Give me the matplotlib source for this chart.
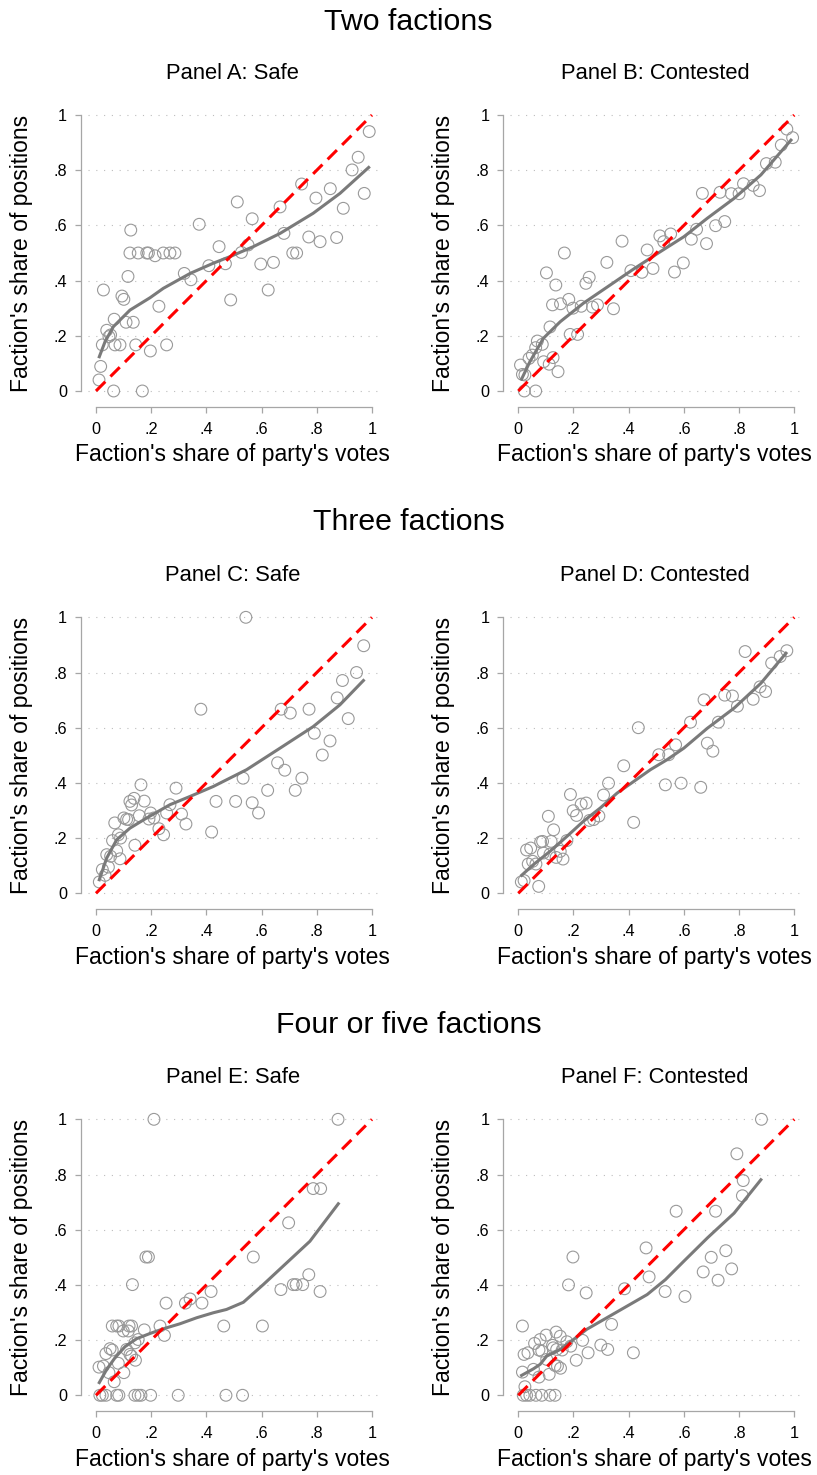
import matplotlib
matplotlib.use("Agg")
import matplotlib.pyplot as plt

plt.rcParams['font.family'] = ['Liberation Sans', 'DejaVu Sans']

# Panel A: two factions, safe
a_x = [0.99, 0.95, 0.928, 0.972, 0.745, 0.797, 0.849, 0.896, 0.667, 0.512, 0.566, 0.374, 0.126, 0.681, 0.771,
       0.812, 0.872, 0.713, 0.727, 0.446, 0.551, 0.527, 0.123, 0.153, 0.184, 0.19, 0.214, 0.244, 0.268, 0.286,
       0.409, 0.469, 0.597, 0.643, 0.488, 0.624, 0.32, 0.344, 0.116, 0.027, 0.094, 0.101, 0.228, 0.066, 0.109,
       0.135, 0.039, 0.053, 0.047, 0.023, 0.069, 0.087, 0.144, 0.256, 0.197, 0.017, 0.011, 0.064, 0.168]
a_y = [0.94, 0.847, 0.801, 0.716, 0.75, 0.699, 0.733, 0.662, 0.667, 0.685, 0.624, 0.604, 0.583, 0.571, 0.558,
       0.541, 0.556, 0.5, 0.5, 0.523, 0.529, 0.502, 0.5, 0.5, 0.5, 0.5, 0.49, 0.5, 0.5, 0.5,
       0.454, 0.461, 0.46, 0.466, 0.33, 0.366, 0.426, 0.403, 0.415, 0.366, 0.344, 0.332, 0.307, 0.26, 0.249,
       0.249, 0.22, 0.203, 0.197, 0.167, 0.167, 0.167, 0.167, 0.167, 0.145, 0.089, 0.04, 0, 0]
a_fit_x = [0.012, 0.033, 0.063, 0.123, 0.196, 0.244, 0.341, 0.425, 0.486, 0.57, 0.667, 0.787, 0.884, 0.988]
a_fit_y = [0.124, 0.179, 0.233, 0.293, 0.338, 0.372, 0.426, 0.463, 0.487, 0.523, 0.571, 0.644, 0.716, 0.81]

# Panel B: two factions, contested
b_x = [0.973, 0.994, 0.953, 0.899, 0.931, 0.851, 0.874, 0.816, 0.8, 0.772, 0.731, 0.667, 0.748, 0.715, 0.682,
       0.646, 0.627, 0.552, 0.513, 0.527, 0.467, 0.376, 0.488, 0.598, 0.566, 0.448, 0.408, 0.321, 0.167, 0.102,
       0.136, 0.257, 0.245, 0.183, 0.153, 0.124, 0.198, 0.228, 0.269, 0.287, 0.345, 0.115, 0.188, 0.215, 0.069,
       0.087, 0.063, 0.051, 0.039, 0.008, 0.092, 0.112, 0.126, 0.144, 0.015, 0.024, 0.022, 0.063]
b_y = [0.949, 0.918, 0.891, 0.824, 0.829, 0.745, 0.726, 0.751, 0.715, 0.715, 0.72, 0.716, 0.614, 0.599, 0.534,
       0.586, 0.55, 0.569, 0.562, 0.541, 0.511, 0.543, 0.444, 0.464, 0.431, 0.43, 0.436, 0.466, 0.5, 0.428,
       0.384, 0.412, 0.39, 0.332, 0.316, 0.312, 0.3, 0.307, 0.304, 0.312, 0.298, 0.232, 0.205, 0.205, 0.181,
       0.169, 0.157, 0.13, 0.118, 0.094, 0.106, 0.097, 0.121, 0.07, 0.06, 0.058, 0, 0]
b_fit_x = [0.012, 0.042, 0.091, 0.152, 0.236, 0.333, 0.418, 0.515, 0.6, 0.685, 0.782, 0.879, 0.988]
b_fit_y = [0.043, 0.106, 0.191, 0.251, 0.318, 0.384, 0.442, 0.505, 0.559, 0.626, 0.698, 0.783, 0.909]

# Panel C: three factions, safe
c_x = [0.543, 0.97, 0.944, 0.893, 0.874, 0.914, 0.772, 0.671, 0.704, 0.38, 0.791, 0.848, 0.82, 0.658, 0.684,
       0.746, 0.722, 0.622, 0.533, 0.566, 0.589, 0.506, 0.435, 0.419, 0.29, 0.163, 0.175, 0.138, 0.123, 0.129,
       0.268, 0.31, 0.256, 0.326, 0.198, 0.21, 0.192, 0.157, 0.101, 0.111, 0.118, 0.228, 0.245, 0.068, 0.081,
       0.089, 0.06, 0.141, 0.075, 0.039, 0.053, 0.087, 0.045, 0.023, 0.033, 0.012]
c_y = [1.0, 0.897, 0.8, 0.771, 0.708, 0.633, 0.667, 0.667, 0.653, 0.667, 0.58, 0.552, 0.501, 0.473, 0.446,
       0.417, 0.373, 0.373, 0.417, 0.328, 0.291, 0.333, 0.333, 0.222, 0.381, 0.393, 0.334, 0.344, 0.333, 0.32,
       0.321, 0.287, 0.291, 0.251, 0.291, 0.273, 0.269, 0.281, 0.273, 0.268, 0.267, 0.234, 0.212, 0.255, 0.212,
       0.2, 0.191, 0.174, 0.154, 0.14, 0.134, 0.125, 0.095, 0.086, 0.065, 0.041]
c_fit_x = [0.012, 0.039, 0.075, 0.123, 0.184, 0.268, 0.341, 0.425, 0.546, 0.667, 0.787, 0.884, 0.969]
c_fit_y = [0.049, 0.128, 0.194, 0.236, 0.273, 0.321, 0.351, 0.387, 0.448, 0.526, 0.604, 0.683, 0.771]

# Panel D: three factions, contested
d_x = [0.973, 0.822, 0.949, 0.918, 0.876, 0.896, 0.851, 0.794, 0.748, 0.776, 0.673, 0.725, 0.624, 0.435, 0.685,
       0.705, 0.57, 0.509, 0.545, 0.382, 0.533, 0.59, 0.661, 0.327, 0.309, 0.189, 0.228, 0.246, 0.199, 0.211,
       0.109, 0.258, 0.273, 0.292, 0.418, 0.128, 0.081, 0.088, 0.119, 0.176, 0.03, 0.045, 0.091, 0.115, 0.137,
       0.152, 0.162, 0.036, 0.052, 0.064, 0.011, 0.021, 0.074]
d_y = [0.879, 0.876, 0.858, 0.834, 0.748, 0.731, 0.703, 0.678, 0.718, 0.715, 0.701, 0.62, 0.62, 0.6, 0.544,
       0.515, 0.538, 0.502, 0.502, 0.462, 0.393, 0.399, 0.384, 0.399, 0.356, 0.358, 0.323, 0.327, 0.299, 0.282,
       0.279, 0.264, 0.267, 0.28, 0.257, 0.23, 0.186, 0.188, 0.188, 0.191, 0.157, 0.164, 0.146, 0.142, 0.13,
       0.152, 0.124, 0.106, 0.116, 0.106, 0.041, 0.046, 0.025]
d_fit_x = [0.012, 0.055, 0.115, 0.176, 0.236, 0.297, 0.358, 0.418, 0.479, 0.539, 0.6, 0.685, 0.782, 0.879, 0.97]
d_fit_y = [0.065, 0.104, 0.152, 0.206, 0.261, 0.309, 0.363, 0.405, 0.448, 0.484, 0.526, 0.598, 0.671, 0.761, 0.87]

# Panel E: four or five factions, safe
e_x = [0.21, 0.877, 0.787, 0.814, 0.698, 0.57, 0.181, 0.19, 0.771, 0.715, 0.725, 0.749, 0.67, 0.812, 0.132,
       0.417, 0.254, 0.324, 0.341, 0.384, 0.463, 0.603, 0.059, 0.075, 0.083, 0.12, 0.129, 0.099, 0.117, 0.175,
       0.232, 0.248, 0.153, 0.141, 0.051, 0.059, 0.036, 0.111, 0.123, 0.129, 0.143, 0.081, 0.011, 0.027, 0.047,
       0.101, 0.066, 0.014, 0.023, 0.036, 0.075, 0.083, 0.141, 0.153, 0.163, 0.198, 0.298, 0.471, 0.531]
e_y = [1, 1, 0.749, 0.749, 0.625, 0.501, 0.501, 0.501, 0.437, 0.401, 0.401, 0.401, 0.383, 0.376, 0.401,
       0.376, 0.334, 0.334, 0.349, 0.334, 0.251, 0.251, 0.251, 0.251, 0.251, 0.251, 0.251, 0.233, 0.233, 0.237,
       0.251, 0.217, 0.202, 0.19, 0.169, 0.164, 0.151, 0.166, 0.148, 0.142, 0.127, 0.116, 0.102, 0.106, 0.082,
       0.082, 0.049, 0, 0, 0, 0, 0, 0, 0, 0, 0, 0, 0, 0]
e_fit_x = [0.012, 0.039, 0.069, 0.105, 0.147, 0.196, 0.244, 0.304, 0.365, 0.425, 0.473, 0.534, 0.606, 0.691, 0.775, 0.878]
e_fit_y = [0.046, 0.094, 0.136, 0.176, 0.205, 0.224, 0.241, 0.259, 0.281, 0.299, 0.311, 0.337, 0.401, 0.48, 0.558, 0.694]

# Panel F: four or five factions, contested
f_x = [0.881, 0.792, 0.815, 0.812, 0.572, 0.715, 0.463, 0.752, 0.699, 0.198, 0.773, 0.67, 0.474, 0.724, 0.182,
       0.385, 0.532, 0.604, 0.246, 0.338, 0.015, 0.233, 0.21, 0.253, 0.299, 0.324, 0.417, 0.137, 0.152, 0.101,
       0.079, 0.059, 0.075, 0.085, 0.124, 0.127, 0.139, 0.176, 0.19, 0.159, 0.021, 0.035, 0.103, 0.133, 0.142,
       0.153, 0.055, 0.075, 0.112, 0.015, 0.024, 0.018, 0.03, 0.042, 0.064, 0.085, 0.115, 0.133]
f_y = [1, 0.875, 0.778, 0.723, 0.667, 0.667, 0.534, 0.524, 0.5, 0.501, 0.458, 0.447, 0.429, 0.417, 0.4,
       0.386, 0.376, 0.358, 0.371, 0.257, 0.251, 0.199, 0.127, 0.154, 0.182, 0.166, 0.154, 0.229, 0.214, 0.218,
       0.202, 0.188, 0.164, 0.16, 0.181, 0.172, 0.166, 0.194, 0.178, 0.164, 0.148, 0.154, 0.13, 0.108, 0.106,
       0.098, 0.094, 0.066, 0.076, 0.084, 0.031, 0, 0, 0, 0, 0, 0, 0]
f_fit_x = [0.012, 0.055, 0.079, 0.103, 0.152, 0.2, 0.248, 0.321, 0.394, 0.467, 0.533, 0.6, 0.685, 0.782, 0.879]
f_fit_y = [0.072, 0.096, 0.112, 0.142, 0.166, 0.202, 0.239, 0.281, 0.323, 0.365, 0.419, 0.486, 0.57, 0.66, 0.781]

section_titles = ["Two factions", "Three factions", "Four or five factions"]
panel_titles = ["Panel A: Safe", "Panel B: Contested", "Panel C: Safe",
                "Panel D: Contested", "Panel E: Safe", "Panel F: Contested"]
ticks = [0, 0.2, 0.4, 0.6, 0.8, 1]
tick_labels = ["0", ".2", ".4", ".6", ".8", "1"]

W, H = 817, 1475
fig = plt.figure(figsize=(W / 100, H / 100), dpi=100)

# layout in pixels
col_left = [87.7, 510.0]
row_top = [109.5, 611.8, 1113.8]
section_y = [22, 522, 1025]
ax_w, ax_h = 289.8, 287.0

panels = [(a_x, a_y, a_fit_x, a_fit_y), (b_x, b_y, b_fit_x, b_fit_y),
          (c_x, c_y, c_fit_x, c_fit_y), (d_x, d_y, d_fit_x, d_fit_y),
          (e_x, e_y, e_fit_x, e_fit_y), (f_x, f_y, f_fit_x, f_fit_y)]

spine_col = '#a6a6a6'

for i, (px, py, lx, ly) in enumerate(panels):
    r, c = divmod(i, 2)
    left = col_left[c]
    top = row_top[r]
    ax = fig.add_axes([left / W, 1 - (top + ax_h) / H, ax_w / W, ax_h / H])
    ax.set_xlim(-0.03, 1.02)
    ax.set_ylim(-0.02, 1.02)

    ax.scatter(px, py, s=72, facecolors='none', edgecolors='#999999', linewidths=0.8,
               zorder=3, clip_on=False)
    ax.plot(lx, ly, color='#7a7a7a', lw=2.2, zorder=4)
    ax.plot([0, 1], [0, 1], color='#ff0000', lw=2.2, dashes=(4.3, 2.4), zorder=5)

    ax.set_xticks(ticks)
    ax.set_xticklabels(tick_labels)
    ax.set_yticks(ticks)
    ax.set_yticklabels(tick_labels)
    ax.tick_params(axis='both', colors=spine_col, labelcolor='black', labelsize=11.7,
                   length=4, width=0.9)
    ax.tick_params(axis='x', pad=7)
    ax.tick_params(axis='y', pad=6)

    ax.grid(axis='y', color='#bdbdbd', lw=0.8, linestyle=(0, (1, 6)))
    ax.set_axisbelow(True)

    for s in ['top', 'right']:
        ax.spines[s].set_visible(False)
    ax.spines['left'].set_position(('outward', 4.8))
    ax.spines['bottom'].set_position(('outward', 7.4))
    ax.spines['left'].set_bounds(0, 1)
    ax.spines['bottom'].set_bounds(0, 1)
    for s in ['left', 'bottom']:
        ax.spines[s].set_color(spine_col)
        ax.spines[s].set_linewidth(0.9)

    ax.set_xlabel("Faction's share of party's votes", fontsize=16.5)
    ax.set_ylabel("Faction's share of positions", fontsize=16.5)
    ax.xaxis.set_label_coords(0.5, 1 - 345.5 / ax_h)
    ax.yaxis.set_label_coords((22 + 421 * c - left) / ax_w, 0.5)
    ax.xaxis.label.set_va('center')
    ax.yaxis.label.set_va('center')

    ax.set_title(panel_titles[i], fontsize=15.8, y=1 + 27.5 / ax_h, va='center')

for r, t in enumerate(section_titles):
    fig.text(0.5, 1 - section_y[r] / H, t, ha='center', va='center', fontsize=21.8)

fig.savefig('out.png', dpi=100)
